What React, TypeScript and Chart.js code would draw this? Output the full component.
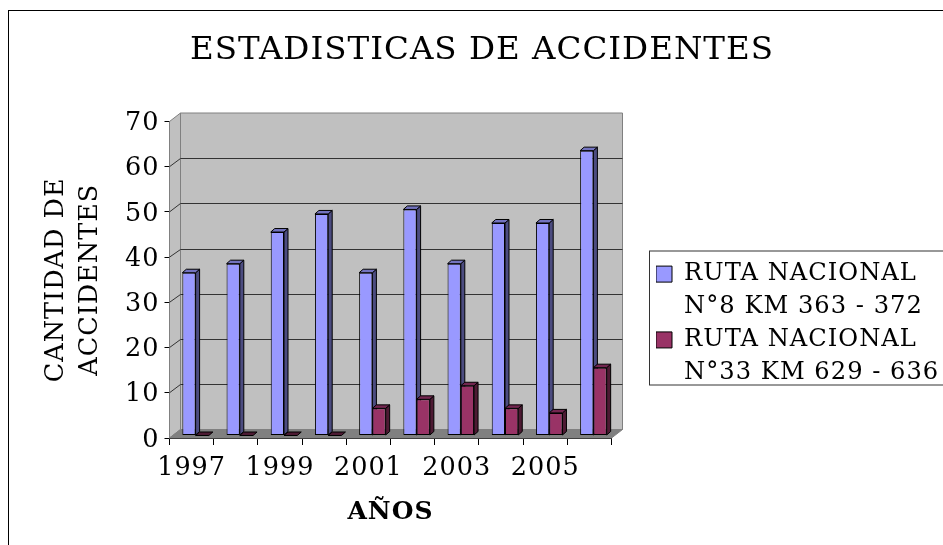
import React, { useEffect, useRef } from "react";
import { Chart, registerables } from "chart.js";

Chart.register(...registerables);

const YEARS = ["1997", "1998", "1999", "2000", "2001", "2002", "2003", "2004", "2005", "2006"];
const RUTA_8 = [36, 38, 45, 49, 36, 50, 38, 47, 47, 63];
const RUTA_33 = [0, 0, 0, 0, 6, 8, 11, 6, 5, 15];
const LABEL_8 = ["RUTA NACIONAL", "N°8 KM 363 - 372"];
const LABEL_33 = ["RUTA NACIONAL", "N°33 KM 629 - 636"];
const TITLE = "ESTADISTICAS DE ACCIDENTES";
const Y_TITLE = ["CANTIDAD DE", "ACCIDENTES"];
const X_TITLE = "AÑOS";

const FONT = "'DejaVu Serif'";
const SPACING = "1px";
const BAR_SHIFT = { x: 4, y: -2.5 };
const BAR_DEPTH = { x: 4, y: -3.5 };
const WALL = { x: 11, y: -8.5 };
const FACES = [
  { side: "#4C4C80", top: "#7373BF", zeroTop: "#4C4C80" },
  { side: "#4D1A33", top: "#732650", zeroTop: "#4D1A33" },
];

function poly(ctx: any, pts: number[][], fill: string, stroke?: string) {
  ctx.beginPath();
  pts.forEach((p, i) => (i ? ctx.lineTo(p[0], p[1]) : ctx.moveTo(p[0], p[1])));
  ctx.closePath();
  ctx.fillStyle = fill;
  ctx.fill();
  if (stroke) {
    ctx.strokeStyle = stroke;
    ctx.lineWidth = 1;
    ctx.stroke();
  }
}

const scene3d = {
  id: "scene3d",
  beforeUpdate(chart: any) {
    (chart.ctx as any).letterSpacing = SPACING;
  },
  beforeLayout(chart: any) {
    (chart.ctx as any).letterSpacing = SPACING;
    const lg = chart.legend;
    if (lg && !lg.__wrapped) {
      const fit = lg.fit.bind(lg);
      lg.fit = function () {
        fit();
        this.width = 331.5;
      };
      lg.__wrapped = true;
    }
  },
  afterLayout(chart: any) {
    const lg = chart.legend;
    lg.left = 656;
    lg.right = 987;
    lg.top = 262;
    lg.bottom = 396;
    chart.titleBlock.right = 964;
  },
  beforeDraw(chart: any) {
    const ctx = chart.ctx;
    (ctx as any).letterSpacing = SPACING;
    ctx.save();
    ctx.fillStyle = "#fff";
    ctx.fillRect(0, 0, chart.width, chart.height);
    ctx.strokeStyle = "#000";
    ctx.lineWidth = 1;
    ctx.strokeRect(8.5, 10.5, 1100, 800);
    ctx.fillStyle = "#fff";
    ctx.strokeStyle = "#333";
    ctx.strokeRect(649.5, 251, 400, 134);
    ctx.restore();
  },
  beforeDatasetsDraw(chart: any) {
    const ctx = chart.ctx;
    const { left, right, top, bottom } = chart.chartArea;
    const ys = chart.scales.y;
    ctx.save();
    const bl = [left + WALL.x, bottom + WALL.y];
    const br = [right + WALL.x, bottom + WALL.y];
    const tl = [left + WALL.x, top + WALL.y];
    const tr = [right + WALL.x, top + WALL.y];
    poly(ctx, [[left, top], tl, bl, [left, bottom]], "#C0C0C0", "#808080");
    poly(ctx, [tl, tr, br, bl], "#C0C0C0", "#808080");
    poly(ctx, [[left, bottom], [right, bottom], br, bl], "#808080", "#808080");
    ctx.strokeStyle = "#333";
    ctx.lineWidth = 1;
    ys.ticks.forEach((t: any) => {
      if (t.value === 0 || t.value === 70) return;
      const y = Math.round(ys.getPixelForValue(t.value) + WALL.y) + 0.5;
      const yf = ys.getPixelForValue(t.value);
      ctx.beginPath();
      ctx.moveTo(left, yf);
      ctx.lineTo(left + WALL.x, y);
      ctx.lineTo(right + WALL.x, y);
      ctx.stroke();
    });
    [0, 1].forEach((i) => {
      const meta = chart.getDatasetMeta(i);
      const f = FACES[i];
      ctx.save();
      ctx.translate(BAR_SHIFT.x, BAR_SHIFT.y);
      meta.data.forEach((el: any) => {
        const { x, y, base, width } = el;
        const l = x - width / 2;
        const r = x + width / 2;
        const dx = BAR_DEPTH.x;
        const dy = BAR_DEPTH.y;
        const zero = Math.abs(base - y) < 0.5;
        if (!zero) poly(ctx, [[r, y], [r + dx, y + dy], [r + dx, base + dy], [r, base]], f.side, "#000");
        poly(ctx, [[l, y], [r, y], [r + dx, y + dy], [l + dx, y + dy]], zero ? f.zeroTop : f.top, "#000");
      });
      meta.controller.draw();
      ctx.restore();
    });
    ctx.restore();
    return false;
  },
};

export default function App() {
  const ref = useRef<HTMLCanvasElement>(null);
  useEffect(() => {
    const chart = new Chart(ref.current as HTMLCanvasElement, {
      type: "bar",
      data: {
        labels: YEARS,
        datasets: [
          {
            label: LABEL_8 as any,
            data: RUTA_8,
            backgroundColor: "#9999FF",
            borderColor: "#000",
            borderWidth: 1,
            borderSkipped: false,
            categoryPercentage: 0.6,
            barPercentage: 1,
          },
          {
            label: LABEL_33 as any,
            data: RUTA_33,
            backgroundColor: "#993366",
            borderColor: "#000",
            borderWidth: 1,
            borderSkipped: false,
            categoryPercentage: 0.6,
            barPercentage: 1,
          },
        ],
      },
      options: {
        responsive: false,
        animation: false,
        layout: { padding: 0, autoPadding: false },
        plugins: {
          tooltip: { enabled: false },
          title: {
            display: true,
            text: TITLE,
            color: "#000",
            font: { family: FONT, size: 32.5, weight: "normal", lineHeight: 1.2 },
            padding: { top: 31, bottom: 51.5 },
          },
          legend: {
            display: true,
            position: "right",
            align: "start",
            labels: {
              color: "#000",
              boxWidth: 16,
              boxHeight: 16,
              padding: 0,
              font: { family: FONT, size: 24.2, lineHeight: 1.36 },
            },
          },
        },
        scales: {
          x: {
            offset: true,
            border: { display: true, color: "#000", width: 1 },
            grid: { display: true, drawOnChartArea: false, drawTicks: true, tickLength: 7, color: "#000", offset: true },
            ticks: {
              autoSkip: false,
              maxRotation: 0,
              minRotation: 0,
              padding: 8,
              color: "#000",
              font: { family: FONT, size: 25.5 },
              callback: (_v: any, i: number) => (i % 2 === 0 ? YEARS[i] : ""),
            },
            title: {
              display: true,
              text: X_TITLE,
              color: "#000",
              font: { family: FONT, size: 25, weight: "bold", lineHeight: 1.2 },
              padding: { top: 0, bottom: 18 },
            },
            afterFit(s: any) {
              s.height = 107;
            },
          },
          y: {
            min: 0,
            max: 70,
            border: { display: true, color: "#000", width: 1 },
            grid: { display: true, drawOnChartArea: false, drawTicks: true, tickLength: 5, color: "#000" },
            ticks: { stepSize: 10, padding: 5, color: "#000", labelOffset: 2, font: { family: FONT, size: 25.5 } },
            title: {
              display: true,
              text: Y_TITLE,
              color: "#000",
              font: { family: FONT, size: 25.5, weight: "normal", lineHeight: 1.34 },
              padding: { top: 39, bottom: 0 },
            },
            afterFit(s: any) {
              s.width = 169.5;
            },
          },
        },
      },
      plugins: [scene3d as any],
    });
    return () => chart.destroy();
  }, []);
  return (
    <div style={{ position: "absolute", left: 0, top: 0, width: 943, height: 545, overflow: "hidden" }}>
      <canvas ref={ref} width={943} height={545} style={{ display: "block" }} />
    </div>
  );
}
